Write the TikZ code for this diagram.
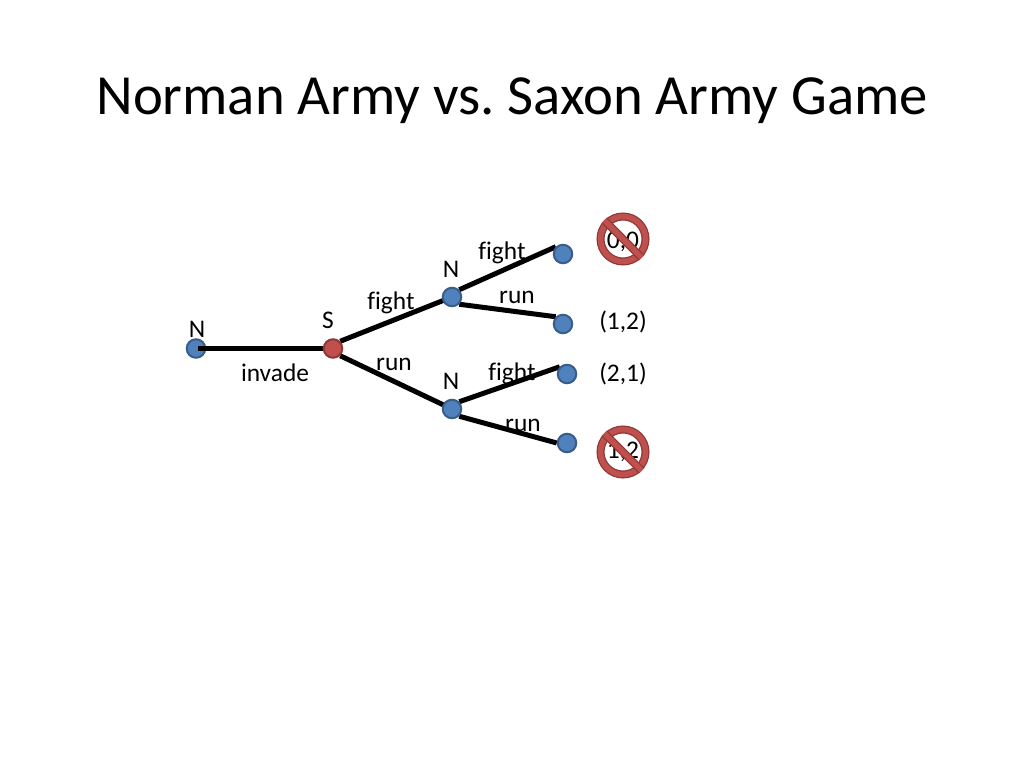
\documentclass[tikz,border=0pt]{standalone}
\usepackage{fontspec}
\setmainfont[Ligatures=NoCommon]{Carlito}
\usepackage{xcolor}
\usetikzlibrary{backgrounds}
\definecolor{nodeblue}{RGB}{79,129,189}
\definecolor{nodeblueline}{RGB}{56,93,138}
\definecolor{nodered}{RGB}{192,80,77}
\definecolor{noderedline}{RGB}{140,56,54}

\begin{document}
\frenchspacing
\begin{tikzpicture}[
    x=1pt, y=-1pt,
    player/.style={circle, draw=nodeblueline, line width=2pt, fill=nodeblue, minimum size=18.5pt, inner sep=0pt},
    saxon/.style={player, draw=noderedline, fill=nodered},
    label/.style={font=\fontsize{25.4}{28}\selectfont, inner sep=0pt},
    move/.style={draw=black, line width=5pt},
    ring/.style={draw=noderedline, line width=8pt},
    ringfill/.style={draw=nodered, line width=5.5pt}
]
    \useasboundingbox (0,0) rectangle (1024,768);

    % Title
    \node[font=\fontsize{56.7}{64}\selectfont, inner sep=0pt] (title) at (512,100.5) {Norman Army vs. Saxon Army Game};

    % Decision points
    \node[saxon] (saxon) at (333,348.5) {};
    \node[player] (fightN) at (452,297) {};
    \node[player] (runN) at (452,409) {};
    \node[player] (leaf1) at (563,254) {};
    \node[player] (leaf2) at (563,324) {};
    \node[player] (leaf3) at (567,374) {};
    \node[player] (leaf4) at (567,443) {};

    % Labels and connectors sit under the points
    \begin{pgfonlayer}{background}
        \node[player] (root) at (196,348.5) {};
        \node[label] (rootname) at (197,329) {N};
        \node[label] (saxonname) at (328,320) {S};
        \node[label] (fightname) at (451,269) {N};
        \node[label] (runname) at (451,381) {N};
        \node[label] (invade) at (275,373) {invade};
        \node[label] (sfight) at (391,303) {fight};
        \node[label] (srun) at (394,364) {run};
        \node[label] (ffight) at (502,253) {fight};
        \node[label] (frun) at (517,297) {run};
        \node[label] (rfight) at (512,374) {fight};
        \node[label] (rrun) at (523,425) {run};
        \draw[move, shorten <=2pt] (root.center) -- (saxon.center);
        \draw[move] (saxon.north east) -- (fightN.center);
        \draw[move] (saxon.south east) -- (runN.center);
        \draw[move] (fightN.north east) -- (leaf1.north west);
        \draw[move] (fightN.south east) -- (leaf2.north west);
        \draw[move] (runN.north east) -- (leaf3.north west);
        \draw[move] (runN.south east) -- (leaf4.west);
    \end{pgfonlayer}

    % Payoffs
    \node[label] (pay2) at (623,322) {(1,2)};
    \node[label] (pay3) at (623,374) {(2,1)};
    \node[label] (pay1) at (623,241) {(0,0)};
    \node[label] (pay4) at (623,451) {(1,2)};

    % Crossed out payoffs
    \foreach \name/\ypos in {ban1/239, ban2/452} {
        \node[circle, minimum size=45pt, inner sep=0pt, ring] (\name) at (623,\ypos) {};
        \node[circle, minimum size=45pt, inner sep=0pt, ringfill] at (623,\ypos) {};
        \draw[ring] (\name.north west) -- (\name.south east);
        \draw[ringfill] (\name.north west) -- (\name.south east);
    }
\end{tikzpicture}
\end{document}
